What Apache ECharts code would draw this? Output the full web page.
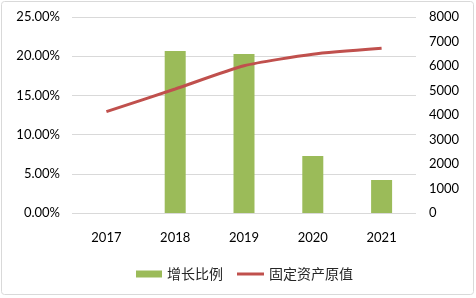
<!DOCTYPE html>
<html>
<head>
<meta charset="utf-8">
<script src="https://cdn.jsdelivr.net/npm/echarts@6/dist/echarts.min.js"></script>
<style>
    html, body { margin: 0; padding: 0; background: #fff; }
    #main { width: 476px; height: 298px; }
</style>
</head>
<body>
<div id="main"></div>
<script>
var years = ['2017', '2018', '2019', '2020', '2021'];
var growthRate = [null, 20.66, 20.28, 7.27, 4.21];
var assetValue = [4135, 5060, 6010, 6480, 6720];

var chart = echarts.init(document.getElementById('main'));
var font = 'Lato, "Noto Sans CJK SC", sans-serif';
var legendText = { fontSize: 14, color: '#262626', fontFamily: font };

chart.setOption({
    animation: false,
    textStyle: { fontFamily: font },
    graphic: [{
        type: 'rect',
        shape: { x: 1.5, y: 1.5, width: 472, height: 293, r: 3 },
        style: { fill: 'none', stroke: '#d9d9d9', lineWidth: 1 },
        silent: true
    }],
    grid: { left: 72, right: 60, top: 17, bottom: 85 },
    // two legends so the line key can be thinner than the bar key
    legend: [{
        left: 131,
        top: 262,
        itemWidth: 26,
        itemHeight: 7,
        itemGap: 4,
        textStyle: legendText,
        data: [{ name: '增长比例', icon: 'rect' }]
    }, {
        left: 232,
        top: 262,
        itemWidth: 27,
        itemHeight: 3,
        textStyle: legendText,
        data: [{ name: '固定资产原值', icon: 'rect' }]
    }],
    xAxis: {
        type: 'category',
        data: years,
        axisLine: { show: false },
        axisTick: { show: false },
        axisLabel: { margin: 18, fontSize: 13, color: '#000' }
    },
    yAxis: [{
        type: 'value',
        min: 0,
        max: 25,
        interval: 5,
        axisLabel: {
            margin: 12, fontSize: 13, color: '#000',
            formatter: function (v) { return v.toFixed(2) + '%'; }
        },
        splitLine: { lineStyle: { color: '#d9d9d9', width: 1 } }
    }, {
        type: 'value',
        min: 0,
        max: 8000,
        interval: 1000,
        axisLabel: {
            margin: 13, fontSize: 13, color: '#000',
            formatter: function (v) { return String(v); }
        },
        splitLine: { show: false }
    }],
    series: [{
        name: '增长比例',
        type: 'bar',
        data: growthRate,
        barWidth: 21,
        itemStyle: { color: '#9bbb59' }
    }, {
        name: '固定资产原值',
        type: 'line',
        yAxisIndex: 1,
        data: assetValue,
        smooth: 0.2,
        symbol: 'none',
        lineStyle: { color: '#c0504d', width: 3 },
        itemStyle: { color: '#c0504d' }
    }]
});
</script>
</body>
</html>
